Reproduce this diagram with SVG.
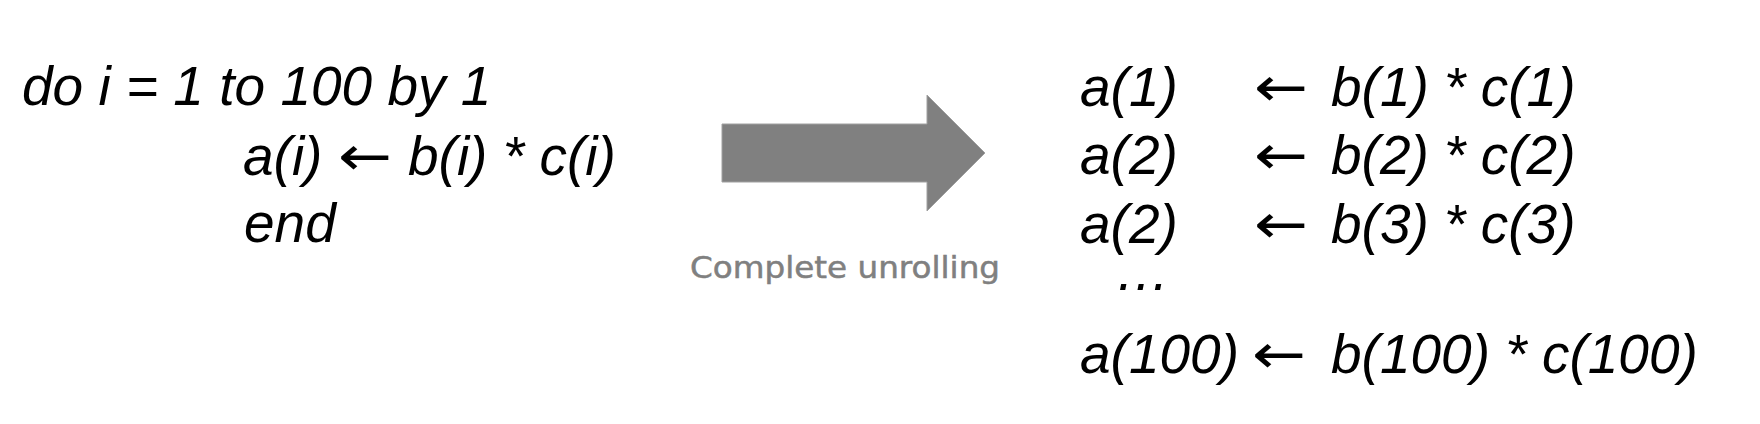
<svg xmlns="http://www.w3.org/2000/svg" width="1760" height="424" viewBox="0 0 1760 424">
<style>
.code{font-family:"Liberation Sans",Arial,sans-serif;font-style:italic;font-size:55px;fill:#000}
.arr{font-family:"DejaVu Sans",sans-serif;font-size:55px;fill:#000}
.lbl{font-family:"Comic Sans MS","DejaVu Sans",sans-serif;font-size:30px;fill:#808080;stroke:#808080;stroke-width:0.5}
</style>
<rect width="1760" height="424" fill="#fff"/>
<g id="loop">
<text class="code" x="22" y="105">do i = 1 to 100 by 1</text>
<text class="code" x="243" y="175">a(i)</text>
<text class="arr" x="338" y="175" textLength="54" lengthAdjust="spacingAndGlyphs">←</text>
<text class="code" x="408" y="175">b(i) * c(i)</text>
<text class="code" x="244" y="242">end</text>
</g>
<g id="connectors">
<polygon points="722,124 927,124 927,95 985,153 927,211 927,182 722,182" fill="#808080" stroke="#a0a0a0" stroke-width="1"/>
<text class="lbl" x="690" y="278" textLength="310" lengthAdjust="spacingAndGlyphs">Complete unrolling</text>
</g>
<g id="unrolled">
<text class="code" x="1080" y="106">a(1)</text>
<text class="arr" x="1254" y="106" textLength="54" lengthAdjust="spacingAndGlyphs">←</text>
<text class="code" x="1331" y="106">b(1) * c(1)</text>
<text class="code" x="1080" y="174">a(2)</text>
<text class="arr" x="1254" y="174" textLength="54" lengthAdjust="spacingAndGlyphs">←</text>
<text class="code" x="1331" y="174">b(2) * c(2)</text>
<text class="code" x="1080" y="243">a(2)</text>
<text class="arr" x="1254" y="243" textLength="54" lengthAdjust="spacingAndGlyphs">←</text>
<text class="code" x="1331" y="243">b(3) * c(3)</text>
<text class="code" x="1115" y="290">…</text>
<text class="code" x="1080" y="373">a(100)</text>
<text class="arr" x="1252" y="373" textLength="54" lengthAdjust="spacingAndGlyphs">←</text>
<text class="code" x="1331" y="373">b(100) * c(100)</text>
</g>
</svg>
